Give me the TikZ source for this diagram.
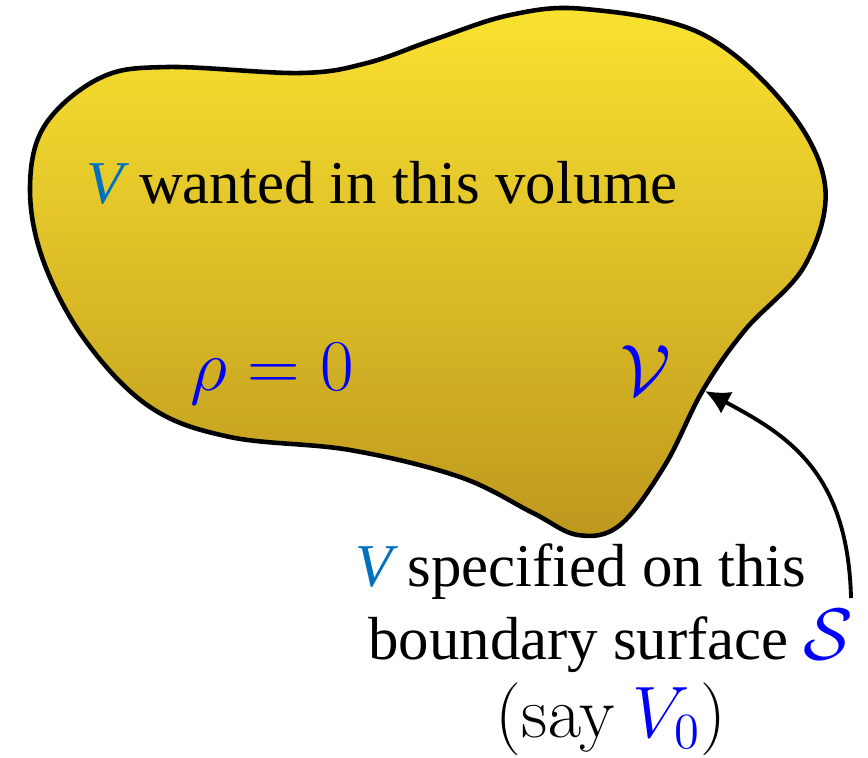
\documentclass[tikz,border=0pt]{standalone}
\usepackage[no-math]{fontspec}
\setmainfont{Liberation Serif}
\usetikzlibrary{arrows.meta}
\definecolor{vblue}{RGB}{0,114,189}
\definecolor{blobtop}{RGB}{250,226,48}
\definecolor{blobbot}{RGB}{190,152,30}
\newcommand{\mth}[1]{{\fontsize{19.5}{23}\selectfont$#1$}}
\tikzset{
  txt/.style={inner sep=0pt, font=\fontsize{17.3}{20.7}\selectfont},
  blob/.style={draw=black, line width=1.3pt, top color=blobtop, bottom color=blobbot},
  arr/.style={line width=1.1pt, -{Latex[length=7pt,width=7pt]}}
}
\begin{document}
\begin{tikzpicture}[x=0.1mm,y=-0.1mm]
\useasboundingbox (0,0) rectangle (868,757);
\draw[blob] plot[smooth cycle, tension=0.6] coordinates {
  (585,9) (700,33) (785,105) (825,185) (805,265) (745,330) (703,390)
  (665,465) (620,525) (578,535) (533,513) (460,477) (350,450) (230,437)
  (150,407) (85,340) (43,260) (30,187) (45,125) (100,78) (167,67)
  (300,73) (367,63) (433,40) (510,15)};
\node[txt, anchor=base west] (want) at (86,203) {\textit{\textcolor{vblue}{V}} wanted in this volume};
\node[txt, anchor=base west, text=blue] (rho) at (190,390) {\mth{\rho=0}};
\node[txt, anchor=base west, text=blue] (vol) at (620,395) {\mth{\mathcal{V}}};
\node[txt, anchor=north, align=center] (spec) at (611,543)
  {\textit{\textcolor{vblue}{V}} specified on this\hspace*{1em}\\
   boundary surface \mth{\color{blue}\mathcal{S}}\\[1.5pt]
   \mth{(\mathrm{say}\ {\color{blue}V_0})}};
\coordinate (tip) at (705,391);
\coordinate (foot) at (851,598);
\draw[arr] (foot) .. controls +(-3,-128) and +(80,43) .. (tip);
\end{tikzpicture}
\end{document}
